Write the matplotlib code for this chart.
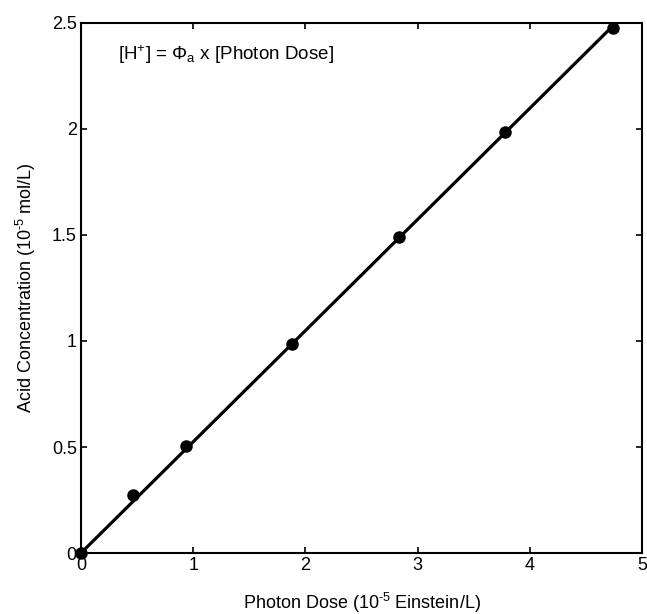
import numpy as np
import matplotlib.pyplot as plt

plt.rcParams['font.family'] = ['Liberation Sans', 'DejaVu Sans']
plt.rcParams['mathtext.fontset'] = 'custom'
plt.rcParams['mathtext.rm'] = 'Liberation Sans'
plt.rcParams['mathtext.it'] = 'Liberation Sans'

# photon dose (1e-5 Einstein/L) and acid concentration (1e-5 mol/L)
dose = [0, 0.46, 0.94, 1.88, 2.83, 3.78, 4.74]
acid = [0, 0.275, 0.505, 0.985, 1.49, 1.985, 2.475]

x_ticks = [0, 1, 2, 3, 4, 5]
y_ticks = [0, 0.5, 1, 1.5, 2, 2.5]
y_tick_labels = ['0', '0.5', '1', '1.5', '2', '2.5']

# least-squares line through the origin
phi = np.dot(dose, acid) / np.dot(dose, dose)
fit_x = np.array([0, dose[-1]])

fig = plt.figure(figsize=(6.47, 6.14), dpi=100)
ax = fig.add_axes([81 / 647, 61 / 614, 561 / 647, 530 / 614])

ax.plot(fit_x, phi * fit_x, color='black', lw=2.3, solid_capstyle='butt')
ax.plot(dose, acid, 'o', color='black', ms=8, clip_on=False)

ax.set_xlim(0, 5)
ax.set_ylim(0, 2.5)
ax.set_xticks(x_ticks)
ax.set_yticks(y_ticks)
ax.set_yticklabels(y_tick_labels)
ax.tick_params(direction='in', top=True, right=True, length=4, width=1.2,
               labelsize=13, pad=3)
for s in ax.spines.values():
    s.set_linewidth(1.5)

ax.set_xlabel(r'Photon Dose (10$^{\text{-5}}$ Einstein/L)', fontsize=13, labelpad=12)
ax.set_ylabel(r'Acid Concentration (10$^{\text{-5}}$ mol/L)', fontsize=13, labelpad=10)

ax.text(0.33, 2.35, r'[H$^{+}$] = $\Phi_{\mathrm{a}}$ x [Photon Dose]',
        fontsize=13.5, va='center', ha='left')

fig.savefig('out.png', dpi=100)
